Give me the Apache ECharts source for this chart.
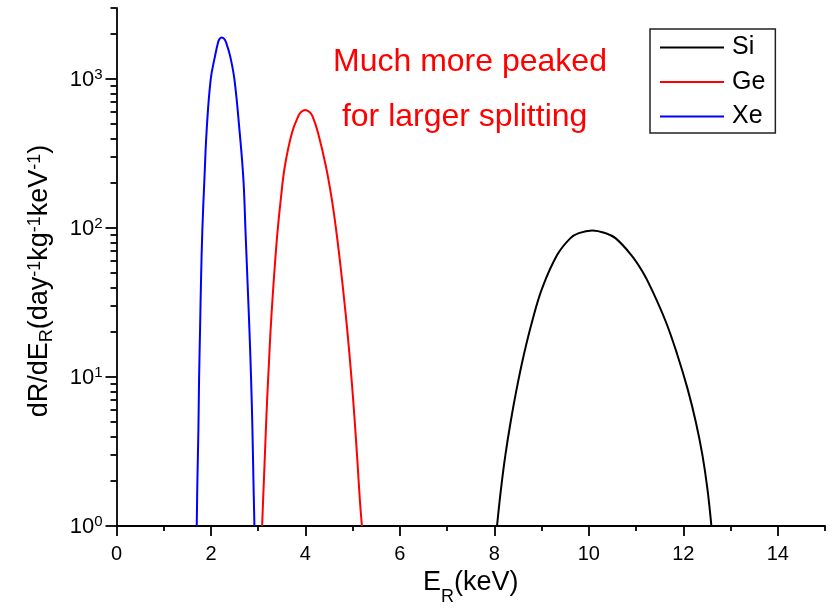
<!DOCTYPE html>
<html><head><meta charset="utf-8">
<script src="https://cdn.jsdelivr.net/npm/echarts@6/dist/echarts.min.js"></script>
<style>html,body{margin:0;padding:0;background:#fff}#c{width:835px;height:611px}</style>
</head><body><div id="c"></div>
<script>
// ---- data ----
const seriesNames = ['Si', 'Ge', 'Xe'];
const siX = [8.056, 8.141, 8.233, 8.345, 8.474, 8.623, 8.798, 9.011, 9.331, 9.611, 9.787, 10.07, 10.351, 10.564, 10.895, 11.135, 11.32, 11.63, 11.875, 12.088, 12.264, 12.405, 12.51, 12.595];
const siY = [1.0, 1.78, 2.99, 5.01, 8.39, 14.06, 23.5, 39.4, 66.1, 85.6, 92.5, 96.4, 92.5, 85.6, 66.1, 51.1, 39.4, 23.5, 14.06, 8.39, 5.01, 2.99, 1.78, 1.0];
const geX = [3.083, 3.104, 3.132, 3.160, 3.189, 3.224, 3.259, 3.302, 3.351, 3.407, 3.478, 3.565, 3.715, 3.85, 3.909, 3.994, 4.085, 4.149, 4.266, 4.432, 4.559, 4.658, 4.743, 4.820, 4.891, 4.954, 5.011, 5.061, 5.108, 5.152, 5.196];
const geY = [1.0, 1.5, 2.5, 4.2, 7.03, 11.8, 19.8, 33.1, 55.4, 93, 155.7, 261, 437, 565, 601, 621, 601, 565, 437, 261, 155.7, 93, 55.4, 33.1, 19.8, 11.8, 7.03, 4.2, 2.5, 1.5, 1.0];
const xeX = [1.699, 1.713, 1.734, 1.748, 1.769, 1.790, 1.818, 1.861, 1.910, 1.995, 2.087, 2.150, 2.179, 2.228, 2.285, 2.320, 2.405, 2.496, 2.602, 2.687, 2.730, 2.772, 2.814, 2.850, 2.878, 2.899, 2.920];
const xeY = [1.0, 2.04, 4.42, 9.59, 20.8, 45.1, 97.9, 212, 460, 998, 1432, 1762, 1854, 1905, 1854, 1762, 1432, 998, 460, 212, 97.9, 45.1, 20.8, 9.59, 4.42, 2.04, 1.0];
const xMajorTicks = [0, 2, 4, 6, 8, 10, 12, 14];
const xMinorTicks = [1, 3, 5, 7, 9, 11, 13, 15];
const yMajorTicks = [1, 10, 100, 1000];
const yMinorTicks = [2,3,4,5,6,7,8,9,20,30,40,50,60,70,80,90,200,300,400,500,600,700,800,900,2000,3000];
const noteLines = ['Much more peaked', ' for larger splitting'];
// ---------------
const colors = {Si: '#000000', Ge: '#ff0000', Xe: '#0000ff'};
const FONT = 'Liberation Sans, Arial, sans-serif';
function pairs(xs, ys) { return xs.map((x, i) => [x, ys[i]]); }
const dataMap = {Si: pairs(siX, siY), Ge: pairs(geX, geY), Xe: pairs(xeX, xeY)};
const chart = echarts.init(document.getElementById('c'));
const axisLineStyle = {color: '#000', width: 1.8};
chart.setOption({
  animation: false,
  backgroundColor: '#fff',
  grid: {left: 116.5, right: 10, top: 8, bottom: 85, containLabel: false, outerBoundsMode: 'none'},
  legend: {
    data: seriesNames, orient: 'vertical', left: 650, top: 29,
    icon: 'rect', itemWidth: 64, itemHeight: 2, itemGap: 9.5,
    padding: [6, 10, 4, 10],
    borderColor: '#222', borderWidth: 1.5, backgroundColor: '#fff',
    textStyle: {fontSize: 25, fontFamily: FONT, color: '#000', lineHeight: 25, padding: [0, 0, 0, 3]}
  },
  xAxis: [{
    type: 'value', min: 0, max: 15, interval: 1,
    name: '{t|E}{sub|R}{t|(keV)}', nameLocation: 'middle', nameGap: 40,
    nameTextStyle: {fontSize: 27, fontFamily: FONT, color: '#000', rich: {
      t: {fontSize: 27, fontFamily: FONT, color: '#000', lineHeight: 30, verticalAlign: 'top'},
      sub: {fontSize: 18, fontFamily: FONT, color: '#000', lineHeight: 37, verticalAlign: 'bottom'}
    }},
    axisLine: {lineStyle: axisLineStyle, onZero: false},
    axisTick: {length: 10, lineStyle: {color: '#000', width: 1.8}, customValues: xMajorTicks},
    axisLabel: {fontSize: 20, fontFamily: FONT, color: '#000', margin: 18, customValues: xMajorTicks},
    splitLine: {show: false}
  }, {
    type: 'value', min: 0, max: 15, interval: 1, position: 'bottom',
    axisLine: {show: false},
    axisTick: {length: 5, lineStyle: {color: '#000', width: 1.8}, customValues: xMinorTicks},
    axisLabel: {show: false}, splitLine: {show: false}
  }],
  yAxis: [{
    type: 'log', logBase: 10, min: 1, max: 3000,
    name: '{t|dR/dE}{sub|R}{t|(day}{sup|-1}{t|kg}{sup|-1}{t|keV}{sup|-1}{t|)}',
    nameLocation: 'middle', nameGap: 60, nameRotate: 90,
    nameTextStyle: {fontSize: 27, fontFamily: FONT, color: '#000', padding: [0, 28, 0, 0], rich: {
      t: {fontSize: 27, fontFamily: FONT, color: '#000', lineHeight: 30, verticalAlign: 'top'},
      sub: {fontSize: 18, fontFamily: FONT, color: '#000', lineHeight: 30, verticalAlign: 'bottom'},
      sup: {fontSize: 18, fontFamily: FONT, color: '#000', lineHeight: 18, verticalAlign: 'top'}
    }},
    axisLine: {show: true, lineStyle: axisLineStyle},
    axisTick: {show: true, length: 11, lineStyle: {color: '#000', width: 1.8}, customValues: yMajorTicks},
    axisLabel: {
      margin: 14, customValues: yMajorTicks, fontSize: 22, fontFamily: FONT, color: '#000',
      formatter: v => '{b|10}{s|' + Math.round(Math.log10(v)) + '}',
      rich: {
        b: {fontSize: 22, fontFamily: FONT, color: '#000', lineHeight: 24, verticalAlign: 'bottom'},
        s: {fontSize: 15, fontFamily: FONT, color: '#000', lineHeight: 15, verticalAlign: 'top'}
      }
    },
    splitLine: {show: false}, minorSplitLine: {show: false}
  }, {
    type: 'log', logBase: 10, min: 1, max: 3000, position: 'left',
    axisLine: {show: false},
    axisTick: {show: true, length: 6, lineStyle: {color: '#000', width: 1.8}, customValues: yMinorTicks},
    axisLabel: {show: false}, splitLine: {show: false}
  }],
  graphic: noteLines.map((t, i) => ({
    type: 'text', left: 333, top: i === 0 ? 46 : 101, z: 10,
    style: {text: t, fontSize: 32, fontFamily: FONT, fill: '#ff0000'}
  })),
  series: seriesNames.map(n => ({
    name: n, type: 'line', data: dataMap[n], xAxisIndex: 0, yAxisIndex: 0,
    showSymbol: false, smooth: 0.4, clip: true,
    lineStyle: {color: colors[n], width: 2}, itemStyle: {color: colors[n]}
  }))
});
</script></body></html>
